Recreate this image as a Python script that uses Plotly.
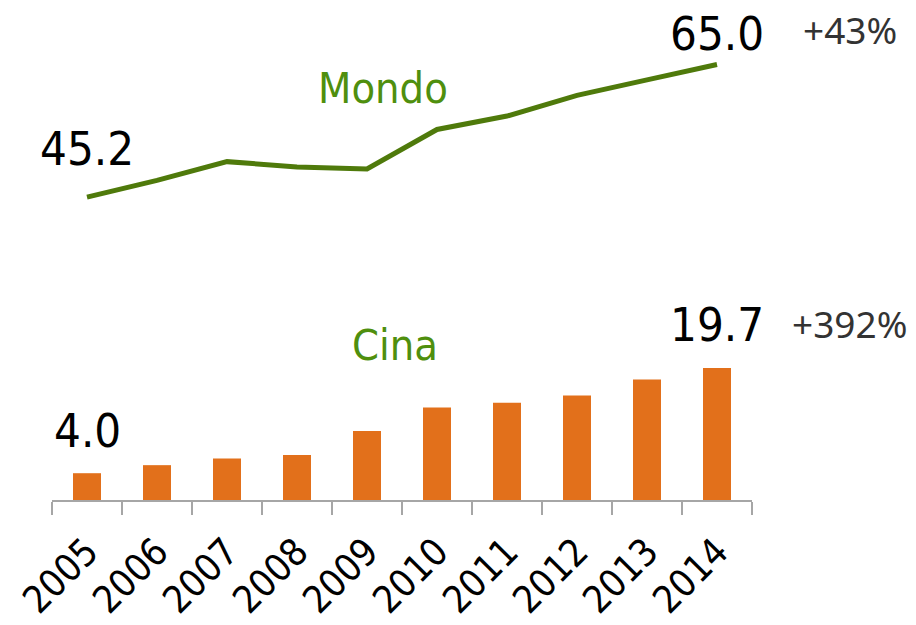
import plotly.graph_objects as go

years = ["2005", "2006", "2007", "2008", "2009", "2010", "2011", "2012", "2013", "2014"]
mondo = [45.2, 47.7, 50.5, 49.7, 49.4, 55.3, 57.3, 60.4, 62.7, 65.0]
cina = [4.0, 5.2, 6.2, 6.7, 10.3, 13.8, 14.5, 15.6, 18.0, 19.7]
mondo_change = "+43%"
cina_change = "+392%"
mondo_name = "Mondo"
cina_name = "Cina"

NUM_FONT = "DejaVu Sans Condensed, DejaVu Sans, sans-serif"
NAME_FONT = "DejaVu Sans Condensed, DejaVu Sans, sans-serif"
PCT_FONT = "Noto Sans, Open Sans, sans-serif"

fig = go.Figure()
fig.add_trace(go.Bar(x=years, y=cina, marker=dict(color="#e2701b", line=dict(width=0)),
                     showlegend=False, hoverinfo="skip"))
fig.add_trace(go.Scatter(x=years, y=mondo, mode="lines",
                         line=dict(color="#4f7a0b", width=5), showlegend=False, hoverinfo="skip"))

first = 0
last = len(years) - 1
ann = []
num = dict(family=NUM_FONT, size=47, color="#000000")
pct = dict(family=PCT_FONT, size=37, color="#333333")
name = dict(family=NAME_FONT, size=43, color="#4f8f0e")

ann.append(dict(x=first, y=mondo[0], xref="x", yref="y", text=f"{mondo[0]:.1f}",
                yshift=49, showarrow=False, font=num, yanchor="middle"))
ann.append(dict(x=last, y=mondo[-1], xref="x", yref="y", text=f"{mondo[-1]:.1f}",
                yshift=31, showarrow=False, font=num, yanchor="middle"))
ann.append(dict(x=first, y=cina[0], xref="x", yref="y", text=f"{cina[0]:.1f}",
                yshift=43, showarrow=False, font=num, yanchor="middle"))
ann.append(dict(x=last, y=cina[-1], xref="x", yref="y", text=f"{cina[-1]:.1f}",
                yshift=44, showarrow=False, font=num, yanchor="middle"))
ann.append(dict(x=1.14, y=mondo[-1], xref="paper", yref="y", text=mondo_change,
                yshift=35, showarrow=False, font=pct, xanchor="center", yanchor="middle"))
ann.append(dict(x=1.14, y=cina[-1], xref="paper", yref="y", text=cina_change,
                yshift=45, showarrow=False, font=pct, xanchor="center", yanchor="middle"))
ann.append(dict(x=0.473, y=0.858, xref="paper", yref="paper", text=mondo_name,
                showarrow=False, font=name, xanchor="center", yanchor="middle"))
ann.append(dict(x=0.49, y=0.323, xref="paper", yref="paper", text=cina_name,
                showarrow=False, font=name, xanchor="center", yanchor="middle"))

fig.update_layout(
    width=916, height=625,
    margin=dict(l=44, r=172, t=12, b=133),
    plot_bgcolor="white", paper_bgcolor="white",
    bargap=0.6,
    annotations=ann,
    xaxis=dict(type="category", range=[-0.5, last + 0.5], showgrid=False, showline=True,
               linecolor="#a6a6a6", linewidth=2, automargin=False,
               ticks="outside", tickson="boundaries", ticklen=13, tickcolor="#a6a6a6", tickwidth=2,
               tickangle=-45, tickfont=dict(family=NUM_FONT, size=38, color="#000000"),
               ticklabelstandoff=12, zeroline=False),
    yaxis=dict(range=[0, 71.64], visible=False, showgrid=False, zeroline=False, automargin=False),
)

fig.write_html("out.html")
